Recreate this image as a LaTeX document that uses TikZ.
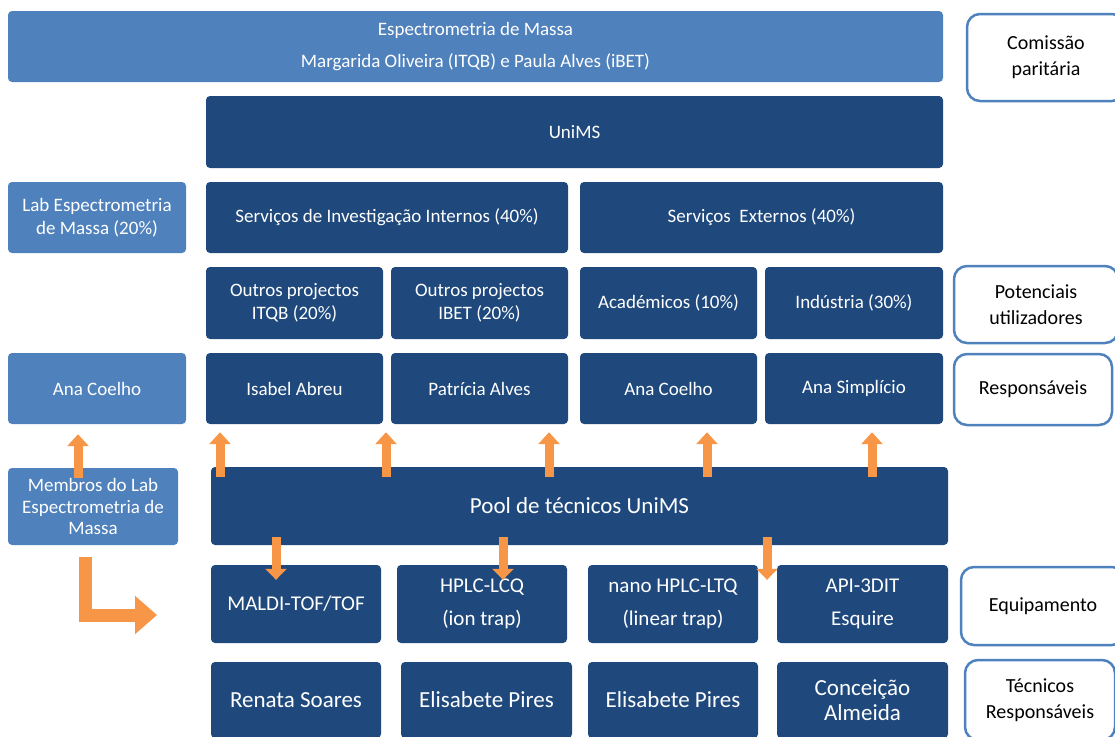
\documentclass[tikz,border=0pt]{standalone}
\usepackage{fontspec}
\setmainfont{Carlito}
\usetikzlibrary{positioning,arrows.meta,calc}
\definecolor{lightblue}{HTML}{4F81BD}
\definecolor{darkblue}{HTML}{1F497D}
\definecolor{orangearrow}{HTML}{F79646}
\tikzset{%
box/.style={rectangle,rounded corners=4pt,inner sep=2pt,align=center,text=white,font=\fontsize{19}{22.5}\selectfont},
darkbox/.style={box,fill=darkblue},
lightbox/.style={box,fill=lightblue},
equipbox/.style={darkbox,font=\fontsize{21}{33}\selectfont},
techbox/.style={darkbox,font=\fontsize{23}{25}\selectfont},
sidebox/.style={rectangle,rounded corners=13pt,draw=lightblue,line width=2.5pt,fill=white,align=center,font=\fontsize{20}{26}\selectfont},
boxsize/.style 2 args={minimum width=#1pt,minimum height=#2pt},
uparrow/.style={draw=orangearrow,line width=9pt,-{Triangle[length=12pt,width=21pt]}},
downarrow/.style={draw=orangearrow,line width=9pt,-{Triangle[length=11pt,width=21pt]}},
bendarrow/.style={draw=orangearrow,line width=13pt,miter limit=10,-{Triangle[length=22pt,width=37pt]}}
}
\begin{document}
\begin{tikzpicture}[x=1pt,y=-1pt]
  \clip (0,0) rectangle (1115,736);

  % top levels
  \node[lightbox,boxsize={935}{71},font=\fontsize{19}{32}\selectfont] (esp) at (475.5,46.5)
    {Espectrometria de Massa\\Margarida Oliveira (ITQB) e Paula Alves (iBET)};
  \node[sidebox,boxsize={158}{87}] (comissao) at (1046,57.5) {Comiss\~ao\\parit\'aria};
  \node[darkbox,boxsize={737}{72}] (unims) at (574.5,132) {UniMS};

  % services
  \node[lightbox,boxsize={178}{71}] (lab) at (97,217.5) {Lab Espectrometria\\de Massa (20\%)};
  \node[darkbox,boxsize={362}{71}] (sint) at (387,217.5) {Servi\c{c}os de Investiga\c{c}\~ao Internos (40\%)};
  \node[darkbox,boxsize={363}{71}] (sext) at (761.5,217.5) {Servi\c{c}os\ \ Externos (40\%)};

  % potential users
  \node[darkbox,boxsize={177}{72}] (itqb) at (294.5,303) {Outros projectos\\ITQB (20\%)};
  \node[darkbox,boxsize={177}{72}] (ibet) at (479.5,303) {Outros projectos\\IBET (20\%)};
  \node[darkbox,boxsize={177}{72}] (acad) at (668.5,303) {Acad\'emicos (10\%)};
  \node[darkbox,boxsize={178}{72}] (ind) at (854,303) {Ind\'ustria (30\%)};
  \node[sidebox,boxsize={164}{77}] (potenciais) at (1036,304.5) {Potenciais\\utilizadores};

  % responsibles
  \node[lightbox,boxsize={178}{71}] (anacl) at (97,388.5) {Ana Coelho};
  \node[darkbox,boxsize={177}{71}] (isabel) at (294.5,388.5) {Isabel Abreu};
  \node[darkbox,boxsize={177}{71}] (patricia) at (479.5,388.5) {Patr\'icia Alves};
  \node[darkbox,boxsize={177}{71}] (anacoelho) at (668.5,388.5) {Ana Coelho};
  \node[darkbox,boxsize={178}{71}] (anasimp) at (854,388.5) {Ana Simpl\'icio};
  \node[sidebox,boxsize={158}{71}] (responsaveis) at (1033,389.5) {Respons\'aveis};

  % technicians pool
  \node[lightbox,boxsize={170}{77},font=\fontsize{19}{21.5}\selectfont] (membros) at (93,506.5)
    {Membros do Lab\\Espectrometria de\\Massa};
  \node[darkbox,boxsize={737}{78},font=\fontsize{23}{25}\selectfont] (pool) at (579.5,506) {Pool de t\'ecnicos UniMS};

  % equipment
  \node[equipbox,boxsize={170}{78}] (maldi) at (296,604) {MALDI-TOF/TOF};
  \node[equipbox,boxsize={170}{78}] (lcq) at (482,604) {HPLC-LCQ\\(ion trap)};
  \node[equipbox,boxsize={170}{78}] (ltq) at (673,604) {nano HPLC-LTQ\\(linear trap)};
  \node[equipbox,boxsize={171}{78}] (api) at (862.5,604) {API-3DIT\\Esquire};
  \node[sidebox,boxsize={164}{78}] (equip) at (1043,606) {Equipamento};

  % technicians
  \node[techbox,boxsize={170}{76}] (renata) at (296,700) {Renata Soares};
  \node[techbox,boxsize={171}{76}] (elis1) at (486.5,700) {Elisabete Pires};
  \node[techbox,boxsize={170}{76}] (elis2) at (673,700) {Elisabete Pires};
  \node[techbox,boxsize={171}{76}] (conc) at (862.5,700) {Concei\c{c}\~ao\\Almeida};
  \node[sidebox,boxsize={150}{80}] (tecnicos) at (1040,700) {T\'ecnicos\\Respons\'aveis};

  % arrows
  \draw[uparrow] ($(membros.north -| 78,0)+(0,10)$) -- ($(anacl.south -| 78,0)+(0,10)$);
  \foreach \x in {220,386,549,707,872}
    \draw[uparrow] ($(pool.north -| \x,0)+(0,10)$) -- ($(isabel.south -| \x,0)+(0,8)$);
  \foreach \x in {276,503,767}
    \draw[downarrow] ($(pool.south -| \x,0)+(0,-8)$) -- ($(maldi.north -| \x,0)+(0,15)$);
  \coordinate (ltip) at (157,615);
  \draw[bendarrow] ($(membros.south -| 85,0)+(0,12)$) |- (ltip);
\end{tikzpicture}
\end{document}
